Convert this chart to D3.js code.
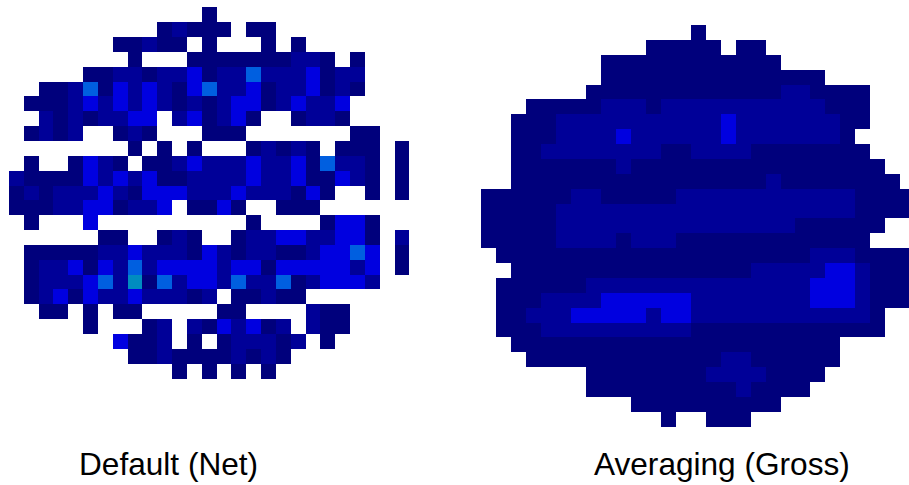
<!DOCTYPE html>
<html>
<head>
<meta charset="utf-8">
<script src="https://cdn.jsdelivr.net/npm/d3@7"></script>
<style>
  body { margin: 0; background: #fff; }
  svg { display: block; }
  text { font-family: "Liberation Sans", Arial, sans-serif; font-size: 31.6px; fill: #000; }
</style>
</head>
<body>
<svg width="909" height="485"></svg>
<script>
  // one string per row, one digit per cell, 0 = no cell
  const netRows = [
    "000000000000010000000000000",
    "000000000012111011000000000",
    "000000011211010001010000000",
    "000000001000111111122101000",
    "000001122122312242223122000",
    "001124132321342231223121000",
    "011123232321212331232230000",
    "002121223302312310012210000",
    "012120012100011100000001100",
    "000000001010100012121011101",
    "010013210112322232231422101",
    "211113232311222232231132101",
    "121222321333222322213100101",
    "111223312230113100111000000",
    "010003000000000010000133100",
    "000000110012100122332233102",
    "011111223222132122112334301",
    "012231324233332331333332301",
    "012223425142332422412333200",
    "012313223222120112110000000",
    "001101011000001100002110000",
    "000001000120213231202110000",
    "000000031120101222120100000",
    "000000001121111212100000000",
    "000000000001010101000000000"
  ];

  const grossRows = [
    "00000000000000100000000000000",
    "00000000000111110110000000000",
    "00000000111111111111000000000",
    "00000000111111111111111000000",
    "00000001111111111111221111000",
    "00011111222122222222222111000",
    "00111222222222223222222211000",
    "00111222232222223222222210000",
    "00112222222211222211111111000",
    "00111111121111111111111111100",
    "00111111111111111112111111110",
    "11111122111112222222222221111",
    "11111222222222222222222221111",
    "11111222222222222222211111100",
    "11111222212221111111111111000",
    "01111111111111111111112221111",
    "00111111111111111122222332111",
    "01111112222222222222223332111",
    "01112222333333222222223332111",
    "01122233333233222222222222100",
    "01112222222222111111111111100",
    "00111111111111111111111100000",
    "00011111111111112211111100000",
    "00000001111111122221111000000",
    "00000001111111111211110000000",
    "00000000001111111111000000000",
    "00000000000010011100000000000"
  ];

  const captions = ["Default (Net)", "Averaging (Gross)"];

  const levels = [1, 2, 3, 4, 5];
  const levelColors = ["#00007c", "#000098", "#0000e0", "#005fe0", "#008cc0"];

  const svg = d3.select("svg");

  const color = d3.scaleOrdinal().domain(levels).range(levelColors);

  // rows of digits -> list of cells
  function toCells(rows) {
    const cells = [];
    rows.forEach((row, r) => {
      row.split("").forEach((d, c) => {
        if (+d > 0) cells.push({ r: r, c: c, v: +d });
      });
    });
    return cells;
  }

  function drawMap(rows, left, top, cellW, cellH) {
    const nCols = rows[0].length;
    const x = d3.scaleBand().domain(d3.range(nCols)).range([left, left + nCols * cellW]);
    const y = d3.scaleBand().domain(d3.range(rows.length)).range([top, top + rows.length * cellH]);

    svg.append("g").selectAll("rect")
      .data(toCells(rows))
      .enter()
      .append("rect")
      .attr("x", d => x(d.c))
      .attr("y", d => y(d.r))
      .attr("width", x.bandwidth())
      .attr("height", y.bandwidth())
      .attr("shape-rendering", "crispEdges")
      .style("fill", d => color(d.v));
  }

  drawMap(netRows, 9, 7.3, 14.83, 14.85);
  drawMap(grossRows, 481.3, 25, 14.96, 14.88);

  // captions under the maps
  svg.selectAll("text.caption")
    .data(captions)
    .enter()
    .append("text")
    .attr("class", "caption")
    .attr("x", (d, i) => [79, 594][i])
    .attr("y", 475)
    .text(d => d);
</script>
</body>
</html>
